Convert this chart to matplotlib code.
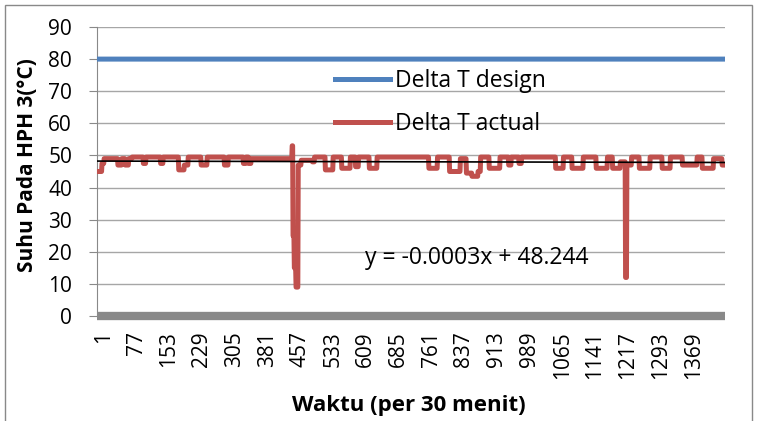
import matplotlib
matplotlib.use('Agg')
import matplotlib.pyplot as plt
import matplotlib.transforms as mtransforms
import numpy as np

# data
n_points = 1456
design_value = 80
# step runs of the actual series: category where each run starts and its value
run_start = [1, 12, 17, 49, 58, 66, 74, 82, 108, 114, 148, 154, 190, 203, 212,
             242, 256, 296, 305, 340, 346, 352, 358, 453, 455, 458, 462, 467,
             474, 500, 505, 530, 548, 568, 588, 600, 607, 632, 650, 770, 790,
             818, 843, 857, 870, 884, 890, 910, 935, 955, 961, 979, 985, 1064,
             1082, 1102, 1128, 1158, 1184, 1196, 1214, 1226, 1229, 1240, 1258,
             1283, 1311, 1330, 1358, 1392, 1404, 1430, 1450]
run_value = [45, 47.5, 49, 47, 49, 47, 49, 49.5, 47.5, 49.5, 47.5, 49.5, 45.5,
             47, 49.5, 47, 49.5, 47, 49.5, 47.5, 49.5, 47.5, 49, 53, 25, 15, 9,
             47, 48.5, 48, 49.5, 45.5, 49.5, 46, 49.5, 46.5, 49.5, 46, 49.5, 46,
             49.5, 45, 49, 44.5, 43.5, 45, 49.5, 46, 49.5, 47, 49.5, 47.5, 49.5,
             46, 49.5, 46, 49.5, 46, 49.5, 46, 48, 12, 47, 49.5, 46, 49.5, 46,
             49.5, 47, 49.5, 46, 49, 47]
trend_slope = -0.0003
trend_intercept = 48.244
tick_step = 76
last_tick = 1369

plt.rcParams['font.family'] = ['Open Sans', 'DejaVu Sans']

lengths = np.diff(run_start + [n_points + 1])
actual = np.repeat(run_value, lengths)
x = np.arange(1, n_points + 1)
design = np.full(n_points, design_value)
trend = trend_slope * x + trend_intercept

fig = plt.figure(figsize=(7.8, 4.21), dpi=100)
ax = fig.add_axes([0.1244, 0.2494, 0.8051, 0.6865])

ax.plot(x, design, color='#4F81BD', lw=3.6, label='Delta T design', zorder=3)
ax.plot(x, actual, color='#C0504D', lw=3.6, label='Delta T actual', zorder=4,
        solid_joinstyle='round')
ax.plot(x, trend, color='black', lw=1.2, zorder=5)

ax.set_xlim(0.5, n_points + 0.5)
ax.set_ylim(0, 90)
ax.set_yticks(range(0, 91, 10))
ticks = list(range(1, last_tick + 1, tick_step))
ax.set_xticks(ticks)
ax.set_xticklabels([str(t) for t in ticks], rotation=90)
ax.tick_params(axis='x', length=0, labelsize=15, pad=11)
ax.tick_params(axis='y', length=6, color='#898989', labelsize=15, pad=12)

# shift category labels a little right, as in the reference
shift = mtransforms.ScaledTranslation(6 / 100, 0, fig.dpi_scale_trans)
for lbl in ax.get_xticklabels():
    lbl.set_transform(lbl.get_transform() + shift)

ax.grid(axis='y', color='#a6a6a6', lw=1)
ax.set_axisbelow(True)
for s in ['top', 'right']:
    ax.spines[s].set_visible(False)
ax.spines['left'].set_color('#898989')
ax.spines['bottom'].set_color('#898989')
ax.spines['bottom'].set_linewidth(6)
ax.spines['bottom'].set_capstyle('butt')
ax.spines['bottom'].set_zorder(6)

ax.set_ylabel('Suhu Pada HPH 3(°C)', fontsize=15, fontweight='bold')
ax.yaxis.set_label_coords(-0.110, 0.522)
ax.set_xlabel('Waktu (per 30 menit)', fontsize=16, fontweight='bold')
ax.xaxis.set_label_coords(0.497, -0.308)
ax.xaxis.label.set_va('center')
ax.yaxis.label.set_va('center')

ax.text(621, 18, 'y = -0.0003x + 48.244', fontsize=16.5, va='center', zorder=7)

ax.legend(loc='upper left', bbox_to_anchor=(0.4295, 0.836),
          bbox_transform=fig.transFigure, frameon=False, fontsize=16.5,
          handlelength=2.4, handletextpad=0.2, labelspacing=0.82,
          borderpad=0, borderaxespad=0)

# outer chart border
fig.add_artist(plt.Rectangle((5 / 780, -0.1), 747 / 780, 1.1 - 5 / 421,
                             transform=fig.transFigure, fill=False,
                             edgecolor='#898989', lw=1))

fig.savefig('out.png', dpi=100)
